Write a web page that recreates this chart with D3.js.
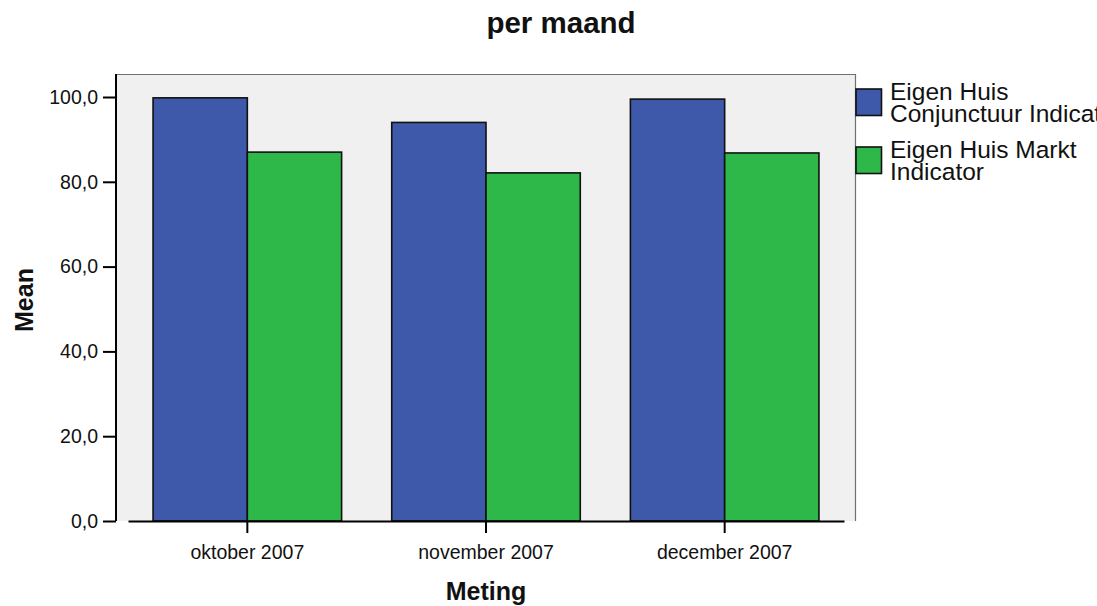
<!DOCTYPE html>
<html>
<head>
<meta charset="utf-8">
<script src="https://cdn.jsdelivr.net/npm/d3@7/dist/d3.min.js"></script>
<style>
  html, body { margin: 0; padding: 0; background: #ffffff; }
  svg { display: block; font-family: Arial, "Liberation Sans", Helvetica, sans-serif; }
</style>
</head>
<body>
<svg id="chart" width="1097" height="606"></svg>
<script>
// Monthly means of the two indicators
const months = ["oktober 2007", "november 2007", "december 2007"];
const seriesNames = [
  ["Eigen Huis", "Conjunctuur Indicator"],
  ["Eigen Huis Markt", "Indicator"]
];
const conjunctuurValues = [99.8, 94.0, 99.5];
const marktValues = [87.0, 82.1, 86.8];
const yTicks = [0, 20, 40, 60, 80, 100];
const colors = ["#3e58aa", "#2fb84a"];

const series = [conjunctuurValues, marktValues];

const svg = d3.select("#chart");

// Plot frame
const frame = { left: 116, right: 856, top: 74, bottom: 521 };
const axisX0 = 128, axisX1 = 844;

const y = d3.scaleLinear().domain([0, 100]).range([521, 97]);
const x0 = d3.scaleBand().domain(months).range([axisX0, axisX1])
  .paddingInner(0.21).paddingOuter(0.105);
const x1 = d3.scaleBand().domain(d3.range(series.length)).range([0, x0.bandwidth()]);

// Background panel
svg.append("rect")
  .attr("x", frame.left).attr("y", frame.top)
  .attr("width", frame.right - frame.left).attr("height", frame.bottom - frame.top)
  .attr("fill", "#f0f0f0");
// Top and right border
svg.append("path")
  .attr("d", `M${frame.left},${frame.top + 0.5}H${frame.right - 0.5}V${frame.bottom}`)
  .attr("fill", "none").attr("stroke", "#707070").attr("stroke-width", 1.2);

// Bars
const groups = svg.append("g").selectAll("g")
  .data(months)
  .join("g")
  .attr("transform", d => `translate(${x0(d)},0)`);

groups.selectAll("rect")
  .data((d, i) => series.map((s, k) => ({ k, v: s[i] })))
  .join("rect")
  .attr("x", d => x1(d.k))
  .attr("y", d => y(d.v))
  .attr("width", x1.bandwidth())
  .attr("height", d => y(0) - y(d.v))
  .attr("fill", d => colors[d.k])
  .attr("stroke", "#111")
  .attr("stroke-width", 1.6);

// Y axis
const yAxis = d3.axisLeft(y)
  .tickValues(yTicks)
  .tickSize(13)
  .tickPadding(5)
  .tickFormat(d => d3.format(".1f")(d).replace(".", ","));
const gy = svg.append("g")
  .attr("transform", `translate(${frame.left},0)`)
  .call(yAxis);
gy.select(".domain").remove();
gy.selectAll(".tick line").attr("stroke", "#000").attr("stroke-width", 2);
gy.selectAll(".tick text")
  .attr("font-size", 19.5).attr("fill", "#111")
  .attr("font-family", "Arial, 'Liberation Sans', sans-serif");
svg.append("line")
  .attr("x1", frame.left).attr("x2", frame.left)
  .attr("y1", frame.top).attr("y2", frame.bottom)
  .attr("stroke", "#000").attr("stroke-width", 2);

// X axis
const xAxis = d3.axisBottom(x0).tickSize(12).tickPadding(12).tickSizeOuter(0);
const gx = svg.append("g")
  .attr("transform", `translate(0,${y(0)})`)
  .call(xAxis);
gx.select(".domain").attr("stroke", "#000").attr("stroke-width", 2);
gx.selectAll(".tick line").attr("stroke", "#000").attr("stroke-width", 2);
gx.selectAll(".tick text")
  .attr("font-size", 19.5).attr("fill", "#111")
  .attr("font-family", "Arial, 'Liberation Sans', sans-serif");

// Titles
svg.append("text")
  .attr("x", 561).attr("y", 33)
  .attr("text-anchor", "middle")
  .attr("font-size", 29.5).attr("font-weight", "bold").attr("fill", "#111")
  .text("per maand");

svg.append("text")
  .attr("x", 486).attr("y", 600)
  .attr("text-anchor", "middle")
  .attr("font-size", 25).attr("font-weight", "bold").attr("fill", "#111")
  .text("Meting");

svg.append("text")
  .attr("transform", "translate(33,300) rotate(-90)")
  .attr("text-anchor", "middle")
  .attr("font-size", 25).attr("font-weight", "bold").attr("fill", "#111")
  .text("Mean");

// Legend
const legend = svg.append("g");
const legendTops = [89, 147];
seriesNames.forEach((lines, k) => {
  legend.append("rect")
    .attr("x", 856).attr("y", legendTops[k])
    .attr("width", 25.5).attr("height", 26.5)
    .attr("fill", colors[k]).attr("stroke", "#111").attr("stroke-width", 1.6);
  const t = legend.append("text")
    .attr("x", 890).attr("y", legendTops[k] + 11)
    .attr("font-size", 24.5).attr("fill", "#111");
  lines.forEach((ln, j) => {
    t.append("tspan").attr("x", 890).attr("dy", j === 0 ? 0 : 22).text(ln);
  });
});
</script>
</body>
</html>
